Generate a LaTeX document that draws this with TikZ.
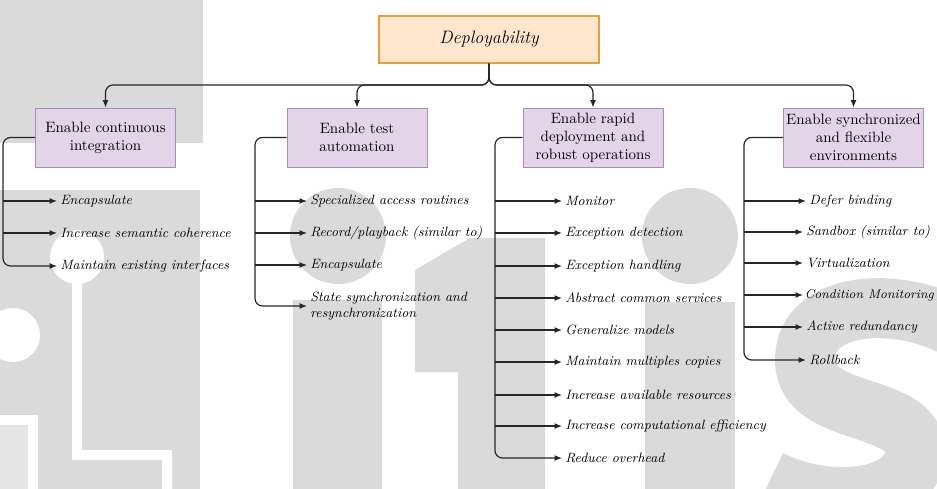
\documentclass[tikz,border=0pt]{standalone}
\usetikzlibrary{arrows.meta}
\definecolor{wm}{gray}{0.855}
\definecolor{wmlight}{gray}{0.9}
\definecolor{rootfill}{HTML}{FFE6CC}
\definecolor{rootdraw}{HTML}{E3A33B}
\definecolor{tacfill}{HTML}{E1D5E7}
\definecolor{tacdraw}{HTML}{A98BBA}
\begin{document}
\begin{tikzpicture}[x=0.6667pt,y=-0.6667pt,
  root/.style={draw=rootdraw, fill=rootfill, line width=0.8pt, minimum width=146.7pt,
    minimum height=31.3pt, font=\large\itshape, inner sep=0pt},
  tactic/.style={draw=tacdraw, fill=tacfill, line width=0.6pt, minimum width=93.3pt,
    minimum height=39.3pt, align=center, inner sep=0pt, font=\normalsize},
  item/.style={anchor=west, font=\small\itshape, inner sep=2pt, align=left},
  link/.style={line width=0.8pt, draw=black!85, -{Latex[length=5pt,width=4pt]}, rounded corners=5pt},
  feed/.style={line width=0.8pt, draw=black!85, -{Latex[length=5pt,width=4pt]}},
]
\useasboundingbox (0,0) rectangle (937,489);

% background lettering
\begin{scope}
  \clip (0,0) rectangle (937,489);
  \fill[wm] (0,0) rectangle (203,143);
  \fill[wm] (0,190) rectangle (200,489);
  \fill[white] (77,257) circle[radius=27] (13,335) circle[radius=27];
  \fill[white] (72,257) rectangle (82,460) (72,450) rectangle (172,460) (162,450) rectangle (172,489);
  \fill[white] (0,415) rectangle (38,425) (28,415) rectangle (38,489);
  \fill[wmlight] (0,425) rectangle (28,489);
  \fill[wm] (338,236) circle[radius=48];
  \fill[wm] (293,300) rectangle (382,489);
  \fill[wm] (415,270) -- (470,238) -- (545,238) -- (545,489) -- (458,489) -- (458,372) -- (415,372) -- cycle;
  \fill[wm] (690,236) circle[radius=48];
  \fill[wm] (645,302) rectangle (735,489);
  \draw[wm, line width=40pt] (960,330) .. controls (900,295) and (805,300) .. (805,360)
    .. controls (805,420) and (920,400) .. (915,455) .. controls (910,500) and (830,510) .. (770,480);
\end{scope}

% tactics tree
\node[root] (dep) at (489,39.5) {Deployability};
\node[tactic] (c1) at (105.5,137.5) {Enable continuous\\integration};
\node[tactic] (c2) at (357,137.5) {Enable test\\automation};
\node[tactic] (c3) at (593,137.5) {Enable rapid\\deployment and\\robust operations};
\node[tactic] (c4) at (853.5,137.5) {Enable synchronized\\and flexible\\environments};
\coordinate (bus) at (489,85);

\foreach \c in {c1,c2,c3,c4}
  \draw[link] (dep.south) |- (bus -| \c.north) -- (\c.north);

% first group
\coordinate (t1) at (3,0);
\node[item] (i11) at (57,201) {Encapsulate};
\node[item] (i12) at (57,233) {Increase semantic coherence};
\node[item] (i13) at (57,266) {Maintain existing interfaces};
\foreach \n in {i11,i12} \draw[feed] (t1 |- \n.west) -- (\n.west);
\draw[link] (c1.west) -| (t1 |- i13.west) -- (i13.west);

% second group
\coordinate (t2) at (255,0);
\node[item] (i21) at (307,201) {Specialized access routines};
\node[item] (i22) at (307,233) {Record/playback (similar to)};
\node[item] (i23) at (307,265) {Encapsulate};
\node[item] (i24) at (307,306) {State synchronization and\\resynchronization};
\foreach \n in {i21,i22,i23} \draw[feed] (t2 |- \n.west) -- (\n.west);
\draw[link] (c2.west) -| (t2 |- i24.west) -- (i24.west);

% third group
\coordinate (t3) at (495,0);
\node[item] (i31) at (562,201) {Monitor};
\node[item] (i32) at (562,233) {Exception detection};
\node[item] (i33) at (562,266) {Exception handling};
\node[item] (i34) at (562,298) {Abstract common services};
\node[item] (i35) at (562,330) {Generalize models};
\node[item] (i36) at (562,362) {Maintain multiples copies};
\node[item] (i37) at (562,395) {Increase available resources};
\node[item] (i38) at (562,426) {Increase computational efficiency};
\node[item] (i39) at (562,458) {Reduce overhead};
\foreach \n in {i31,i32,i33,i34,i35,i36,i37,i38} \draw[feed] (t3 |- \n.west) -- (\n.west);
\draw[link] (c3.west) -| (t3 |- i39.west) -- (i39.west);

% fourth group
\coordinate (t4) at (744,0);
\node[item] (i41) at (806,201) {Defer binding};
\node[item] (i42) at (803,232) {Sandbox (similar to)};
\node[item] (i43) at (803,263) {Virtualization};
\node[item, inner xsep=1pt, font=\fontsize{8.4}{10}\selectfont\itshape] (i44) at (803,295) {Condition Monitoring};
\node[item] (i45) at (803,327) {Active redundancy};
\node[item] (i46) at (806,360) {Rollback};
\foreach \n in {i41,i42,i43,i44,i45} \draw[feed] (t4 |- \n.west) -- (\n.west);
\draw[link] (c4.west) -| (t4 |- i46.west) -- (i46.west);
\end{tikzpicture}
\end{document}
